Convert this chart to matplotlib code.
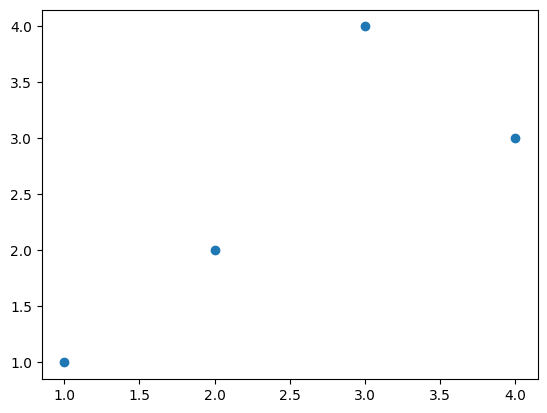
import matplotlib
matplotlib.use("Agg")
import matplotlib.pyplot as plt

x = [1, 2, 3, 4]
y = [1, 2, 4, 3]

fig, ax = plt.subplots(figsize=(6.4, 4.8), dpi=100)
ax.scatter(x, y)
fig.savefig("out.png", dpi=100, bbox_inches="tight")
